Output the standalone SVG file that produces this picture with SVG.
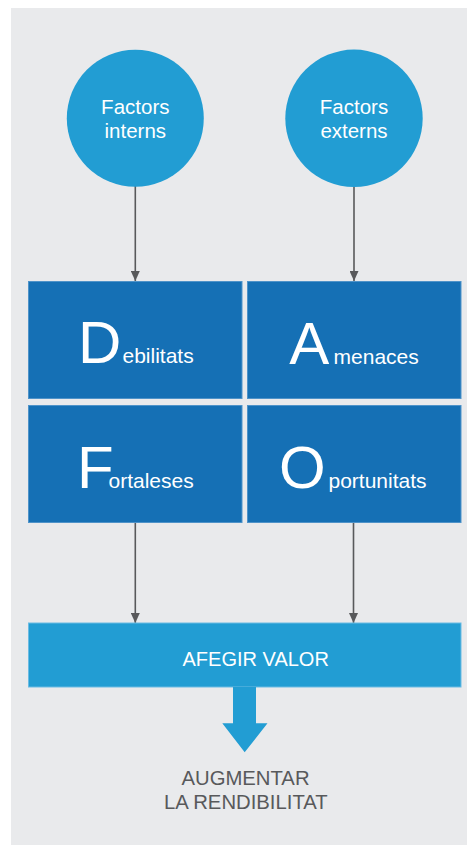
<svg xmlns="http://www.w3.org/2000/svg" width="467" height="846" viewBox="0 0 467 846">
  <style>
    .panel { fill: #e9eaec; }
    .factor { fill: #229dd3; }
    .swot { fill: #1570b5; stroke: #4f93c9; stroke-width: 1; }
    .bar { fill: #229dd3; stroke: #6bbbe3; stroke-width: 1; }
    .lbl { font-family: "Liberation Sans", Arial, sans-serif; fill: #ffffff; }
    .cap { font-size: 60px; }
    .word { font-size: 21px; }
    .ftxt { font-size: 20.5px; text-anchor: middle; }
    .valor { font-size: 20px; text-anchor: middle; }
    .result { font-family: "Liberation Sans", Arial, sans-serif; font-size: 20.3px; fill: #58595b; text-anchor: middle; }
    .conn { stroke: #58595b; stroke-width: 1.6; fill: none; }
  </style>
  <defs>
    <marker id="tri" viewBox="0 0 10 9" refX="10" refY="4.5" markerWidth="10" markerHeight="9" markerUnits="userSpaceOnUse" orient="auto">
      <path d="M0,0 L10,4.5 L0,9 Z" fill="#58595b"/>
    </marker>
  </defs>

  <!-- page background -->
  <rect x="0" y="0" width="467" height="846" fill="#ffffff"/>
  <rect class="panel" x="11" y="8" width="456" height="837"/>

  <!-- connectors -->
  <g id="connectors">
    <line class="conn" x1="135.3" y1="186" x2="135.3" y2="281" marker-end="url(#tri)"/>
    <line class="conn" x1="354" y1="186" x2="354" y2="281" marker-end="url(#tri)"/>
    <line class="conn" x1="135.3" y1="523" x2="135.3" y2="623" marker-end="url(#tri)"/>
    <line class="conn" x1="353.5" y1="523" x2="353.5" y2="623" marker-end="url(#tri)"/>
  </g>

  <g id="factors-interns">
    <circle class="factor" cx="135.3" cy="118.3" r="68.5"/>
    <text class="lbl ftxt" x="135.3" y="114">Factors</text>
    <text class="lbl ftxt" x="135.3" y="138.3">interns</text>
  </g>

  <g id="factors-externs">
    <circle class="factor" cx="354" cy="118.3" r="68.7"/>
    <text class="lbl ftxt" x="354" y="114">Factors</text>
    <text class="lbl ftxt" x="354" y="138.3">externs</text>
  </g>

  <g id="debilitats">
    <rect class="swot" x="28.5" y="281.5" width="213.5" height="117"/>
    <text class="lbl cap" x="78" y="363">D</text>
    <text class="lbl word" x="122.5" y="363">ebilitats</text>
  </g>

  <g id="amenaces">
    <rect class="swot" x="247.5" y="281.5" width="213.5" height="117"/>
    <text class="lbl cap" x="289.3" y="363.5">A</text>
    <text class="lbl word" x="333.6" y="363.5">menaces</text>
  </g>

  <g id="fortaleses">
    <rect class="swot" x="28.5" y="405.5" width="213.5" height="117"/>
    <text class="lbl cap" x="77" y="487.7">F</text>
    <text class="lbl word" x="108.5" y="487.7">ortaleses</text>
  </g>

  <g id="oportunitats">
    <rect class="swot" x="247.5" y="405.5" width="213.5" height="117"/>
    <text class="lbl cap" x="279" y="487.7">O</text>
    <text class="lbl word" x="328.5" y="487.7">portunitats</text>
  </g>

  <g id="afegir-valor">
    <rect class="bar" x="28.5" y="623" width="432.5" height="64"/>
    <text class="lbl valor" x="255.7" y="666">AFEGIR VALOR</text>
  </g>

  <g id="resultat-arrow">
    <path d="M233,687 L256,687 L256,723.3 L267.5,723.3 L244.7,752.3 L222.3,723.3 L233,723.3 Z" fill="#229dd3"/>
  </g>

  <g id="augmentar">
    <text class="result" x="245.5" y="785">AUGMENTAR</text>
    <text class="result" x="245.8" y="809.3">LA RENDIBILITAT</text>
  </g>
</svg>
